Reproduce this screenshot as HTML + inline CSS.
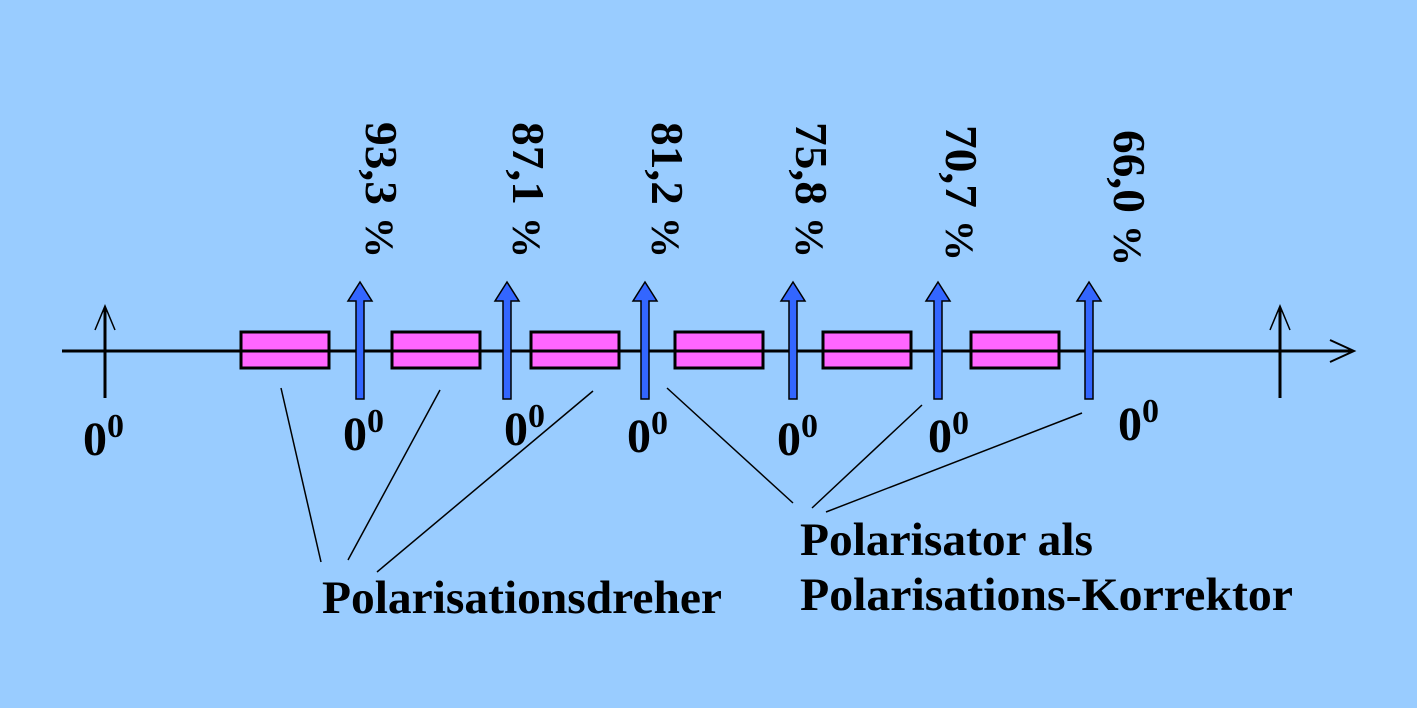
<!DOCTYPE html>
<html><head><meta charset="utf-8"><style>
html,body{margin:0;padding:0;background:#99ccff;}
svg{display:block;}
text{font-family:"Liberation Serif",serif;font-weight:bold;fill:#000;}
</style></head><body>
<svg width="1417" height="708" viewBox="0 0 1417 708" xmlns="http://www.w3.org/2000/svg">
<rect width="1417" height="708" fill="#99ccff"/>
<line x1="62" y1="351" x2="1352" y2="351" stroke="#000" stroke-width="3"/>
<polyline points="1330,340 1354,351 1330,362" fill="none" stroke="#000" stroke-width="2"/>
<line x1="105" y1="398" x2="105" y2="308" stroke="#000" stroke-width="3"/>
<polyline points="95,330 105,306 115,330" fill="none" stroke="#000" stroke-width="1.5"/>
<line x1="1280" y1="398" x2="1280" y2="308" stroke="#000" stroke-width="3"/>
<polyline points="1270,330 1280,306 1290,330" fill="none" stroke="#000" stroke-width="1.5"/>
<g fill="#ff66ff" stroke="#000" stroke-width="3">
<rect x="241" y="332" width="88" height="36"/>
<rect x="392" y="332" width="88" height="36"/>
<rect x="531" y="332" width="88" height="36"/>
<rect x="675" y="332" width="88" height="36"/>
<rect x="823" y="332" width="88" height="36"/>
<rect x="971" y="332" width="88" height="36"/>
</g>
<line x1="62" y1="351" x2="1330" y2="351" stroke="#000" stroke-width="3"/>
<g fill="#3366ff" stroke="#000" stroke-width="1.5">
<path d="M356,399 V301 H348 L360,282 L372,301 H364 V399 Z"/>
<path d="M503,399 V301 H495 L507,282 L519,301 H511 V399 Z"/>
<path d="M641,399 V301 H633 L645,282 L657,301 H649 V399 Z"/>
<path d="M789,399 V301 H781 L793,282 L805,301 H797 V399 Z"/>
<path d="M934,399 V301 H926 L938,282 L950,301 H942 V399 Z"/>
<path d="M1085,399 V301 H1077 L1089,282 L1101,301 H1093 V399 Z"/>
</g>
<g font-size="46">
<text transform="translate(366,122) rotate(90)" textLength="136" lengthAdjust="spacingAndGlyphs">93,3 <tspan font-size="40">%</tspan></text>
<text transform="translate(513,122) rotate(90)" textLength="136" lengthAdjust="spacingAndGlyphs">87,1 <tspan font-size="40">%</tspan></text>
<text transform="translate(652,122) rotate(90)" textLength="136" lengthAdjust="spacingAndGlyphs">81,2 <tspan font-size="40">%</tspan></text>
<text transform="translate(796,122) rotate(90)" textLength="136" lengthAdjust="spacingAndGlyphs">75,8 <tspan font-size="40">%</tspan></text>
<text transform="translate(946,125) rotate(90)" textLength="136" lengthAdjust="spacingAndGlyphs">70,7 <tspan font-size="40">%</tspan></text>
<text transform="translate(1114,130) rotate(90)" textLength="136" lengthAdjust="spacingAndGlyphs">66,0 <tspan font-size="40">%</tspan></text>
</g>
<g font-size="48">
<text x="83" y="455">0<tspan font-size="34" dy="-18">0</tspan></text>
<text x="343" y="450">0<tspan font-size="34" dy="-18">0</tspan></text>
<text x="504" y="445">0<tspan font-size="34" dy="-18">0</tspan></text>
<text x="627" y="452">0<tspan font-size="34" dy="-18">0</tspan></text>
<text x="777" y="455">0<tspan font-size="34" dy="-18">0</tspan></text>
<text x="928" y="452">0<tspan font-size="34" dy="-18">0</tspan></text>
<text x="1118" y="440">0<tspan font-size="34" dy="-18">0</tspan></text>
</g>
<g stroke="#000" stroke-width="1.5">
<line x1="281" y1="388" x2="321" y2="562"/>
<line x1="440" y1="390" x2="348" y2="560"/>
<line x1="593" y1="391" x2="377" y2="572"/>
<line x1="667" y1="388" x2="793" y2="503"/>
<line x1="922" y1="405" x2="812" y2="508"/>
<line x1="1082" y1="413" x2="826" y2="512"/>
</g>
<g font-size="47">
<text x="322" y="613" textLength="400" lengthAdjust="spacingAndGlyphs">Polarisationsdreher</text>
<text x="800" y="555" textLength="293" lengthAdjust="spacingAndGlyphs">Polarisator als</text>
<text x="800" y="610" textLength="493" lengthAdjust="spacingAndGlyphs">Polarisations-Korrektor</text>
</g>
</svg>
</body></html>
